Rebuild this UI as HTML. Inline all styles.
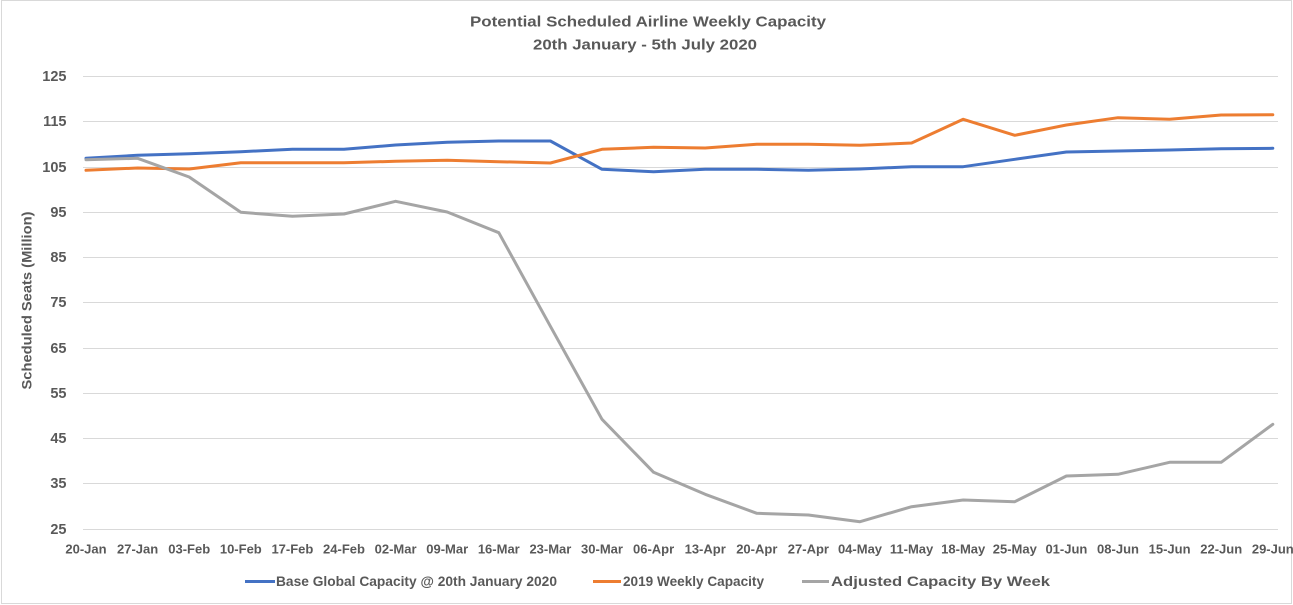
<!DOCTYPE html>
<html><head><meta charset="utf-8"><style>
html,body{margin:0;padding:0;background:#fff;}
svg{display:block;}
text{font-family:"Liberation Sans",sans-serif;font-weight:bold;fill:#595959;}
</style></head><body>
<svg width="1293" height="605" viewBox="0 0 1293 605" xmlns="http://www.w3.org/2000/svg">
<rect x="0" y="0" width="1293" height="605" fill="#fff"/>
<rect x="1.5" y="0.5" width="1290" height="603" fill="none" stroke="#D9D9D9" stroke-width="1"/>
<text x="648" y="26.5" font-size="15" text-anchor="middle" textLength="356" lengthAdjust="spacingAndGlyphs">Potential Scheduled Airline Weekly Capacity</text>
<text x="645" y="49.5" font-size="15" text-anchor="middle" textLength="224" lengthAdjust="spacingAndGlyphs">20th January - 5th July 2020</text>
<g stroke="#D9D9D9" stroke-width="1">
<line x1="83" x2="1278" y1="76.5" y2="76.5"/>
<line x1="83" x2="1278" y1="121.5" y2="121.5"/>
<line x1="83" x2="1278" y1="167.5" y2="167.5"/>
<line x1="83" x2="1278" y1="212.5" y2="212.5"/>
<line x1="83" x2="1278" y1="257.5" y2="257.5"/>
<line x1="83" x2="1278" y1="302.5" y2="302.5"/>
<line x1="83" x2="1278" y1="348.5" y2="348.5"/>
<line x1="83" x2="1278" y1="393.5" y2="393.5"/>
<line x1="83" x2="1278" y1="438.5" y2="438.5"/>
<line x1="83" x2="1278" y1="483.5" y2="483.5"/>
<line x1="83" x2="1278" y1="529.5" y2="529.5"/>
</g>
<g font-size="14.5" text-anchor="end">
<text x="66.5" y="81">125</text>
<text x="66.5" y="126">115</text>
<text x="66.5" y="172">105</text>
<text x="66.5" y="217">95</text>
<text x="66.5" y="262">85</text>
<text x="66.5" y="307">75</text>
<text x="66.5" y="353">65</text>
<text x="66.5" y="398">55</text>
<text x="66.5" y="443">45</text>
<text x="66.5" y="488">35</text>
<text x="66.5" y="534">25</text>
</g>
<text transform="translate(31.5,300.5) rotate(-90)" font-size="14" text-anchor="middle" textLength="178" lengthAdjust="spacingAndGlyphs">Scheduled Seats (Million)</text>
<g font-size="13" text-anchor="middle">
<text x="86" y="553.5">20-Jan</text>
<text x="137.6" y="553.5">27-Jan</text>
<text x="189.2" y="553.5">03-Feb</text>
<text x="240.8" y="553.5">10-Feb</text>
<text x="292.4" y="553.5">17-Feb</text>
<text x="344" y="553.5">24-Feb</text>
<text x="395.6" y="553.5">02-Mar</text>
<text x="447.2" y="553.5">09-Mar</text>
<text x="498.8" y="553.5">16-Mar</text>
<text x="550.4" y="553.5">23-Mar</text>
<text x="602" y="553.5">30-Mar</text>
<text x="653.6" y="553.5">06-Apr</text>
<text x="705.2" y="553.5">13-Apr</text>
<text x="756.8" y="553.5">20-Apr</text>
<text x="808.4" y="553.5">27-Apr</text>
<text x="860" y="553.5">04-May</text>
<text x="911.6" y="553.5">11-May</text>
<text x="963.2" y="553.5">18-May</text>
<text x="1014.8" y="553.5">25-May</text>
<text x="1066.4" y="553.5">01-Jun</text>
<text x="1118" y="553.5">08-Jun</text>
<text x="1169.6" y="553.5">15-Jun</text>
<text x="1221.2" y="553.5">22-Jun</text>
<text x="1272.8" y="553.5">29-Jun</text>
</g>
<g fill="none" stroke-width="3" stroke-linejoin="round" stroke-linecap="round">
<polyline stroke="#4472C4" points="86,158.3 137.6,155.3 189.2,153.7 240.8,151.7 292.4,149.3 344,149.3 395.6,145 447.2,142.3 498.8,141 550.4,141 602,169.3 653.6,171.7 705.2,169.3 756.8,169.3 808.4,170.3 860,169 911.6,166.7 963.2,166.7 1014.8,159.3 1066.4,152 1118,151 1169.6,150 1221.2,148.7 1272.8,148.3"/>
<polyline stroke="#ED7D31" points="86,170.3 137.6,168 189.2,169 240.8,162.7 292.4,162.7 344,162.7 395.6,161.3 447.2,160.3 498.8,161.7 550.4,163 602,149.3 653.6,147.3 705.2,148 756.8,144.3 808.4,144.3 860,145.3 911.6,143 963.2,119.3 1014.8,135.3 1066.4,125 1118,117.7 1169.6,119.3 1221.2,115 1272.8,114.7"/>
<polyline stroke="#A5A5A5" points="86,159.7 137.6,158.3 189.2,177 240.8,212.3 292.4,216.3 344,214 395.6,201.3 447.2,212 498.8,232.7 550.4,326.3 602,419.3 653.6,472.3 705.2,494.3 756.8,513.3 808.4,515 860,521.7 911.6,506.7 963.2,500 1014.8,501.7 1066.4,476 1118,474.3 1169.6,462.3 1221.2,462.3 1272.8,424.3"/>
</g>
<g stroke-width="3">
<line x1="245" x2="275" y1="581.5" y2="581.5" stroke="#4472C4"/>
<line x1="593" x2="621" y1="581.5" y2="581.5" stroke="#ED7D31"/>
<line x1="802" x2="829" y1="581.5" y2="581.5" stroke="#A5A5A5"/>
</g>
<g font-size="14">
<text x="276" y="586" textLength="281" lengthAdjust="spacingAndGlyphs">Base Global Capacity @ 20th January 2020</text>
<text x="623" y="586" textLength="141" lengthAdjust="spacingAndGlyphs">2019 Weekly Capacity</text>
<text x="831" y="586" textLength="219" lengthAdjust="spacingAndGlyphs">Adjusted Capacity By Week</text>
</g>
</svg>
</body></html>
